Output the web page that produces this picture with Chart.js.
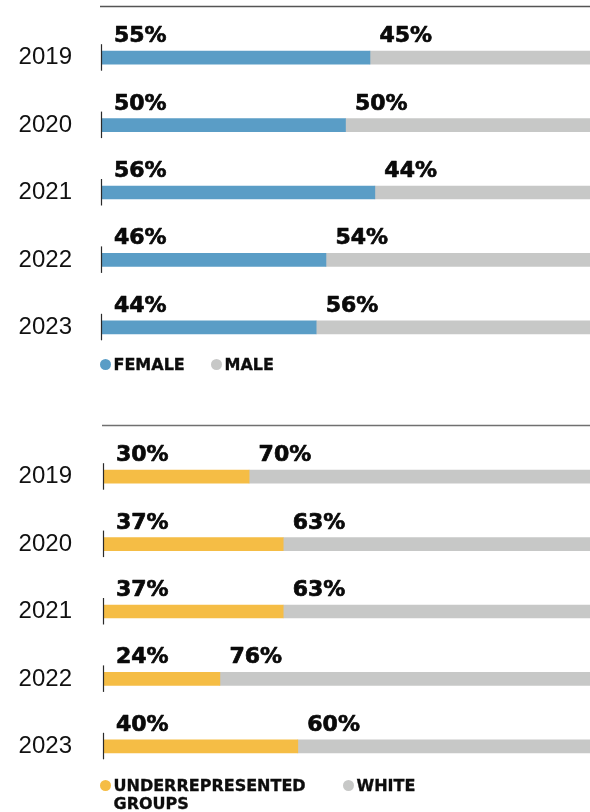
<!DOCTYPE html>
<html>
<head>
<meta charset="utf-8">
<script src="https://cdn.jsdelivr.net/npm/chart.js@4"></script>
<style>
  html, body { margin: 0; padding: 0; background: #fff; }
  body { width: 590px; height: 812px; overflow: hidden; position: relative; font-family: "DejaVu Sans", sans-serif; }
  .wrap { position: absolute; left: 0; width: 590px; }
  .wrap canvas { display: block; }
  .item { position: absolute; font-weight: bold; font-size: 16px; line-height: 18px; color: #0d0d0d; white-space: normal; -webkit-text-stroke: 0.35px #0d0d0d; }
  .dot { position: absolute; width: 11px; height: 11px; border-radius: 50%; }
</style>
</head>
<body>
<div class="wrap" style="top:0;height:361px"><canvas id="genderChart" width="590" height="361"></canvas></div>
<div class="wrap" style="top:420px;height:360px"><canvas id="raceChart" width="590" height="360"></canvas></div>
<div id="genderLegend"></div>
<div id="raceLegend"></div>

<script>
// Years shown on both panels
const years = ['2019', '2020', '2021', '2022', '2023'];

// Gender split (%)
const female = [55, 50, 56, 46, 44];
const male   = [45, 50, 44, 54, 56];

// Race / ethnicity split (%)
const underrepresented = [30, 37, 37, 24, 40];
const white            = [70, 63, 63, 76, 60];

// Series names
const genderLabels = ['FEMALE', 'MALE'];
const raceLabels   = ['UNDERREPRESENTED GROUPS', 'WHITE'];

const BLUE = '#5a9dc6';
const YELLOW = '#f5bd45';
const GREY = '#c7c8c7';

// Draws the rule above each panel, the short axis marks beside each bar
// and the percentage labels sitting above the bars.
const annotate = {
  id: 'annotate',
  afterDatasetsDraw(chart, args, opts) {
    const { ctx, chartArea } = chart;
    ctx.save();
    // top rule
    ctx.strokeStyle = opts.ruleColor;
    ctx.lineWidth = 1.5;
    ctx.beginPath();
    ctx.moveTo(chartArea.left - 1, chartArea.top - opts.ruleGap);
    ctx.lineTo(chartArea.right, chartArea.top - opts.ruleGap);
    ctx.stroke();

    const first = chart.getDatasetMeta(0);
    // axis marks
    ctx.strokeStyle = '#2a2a2a';
    ctx.lineWidth = 1.2;
    first.data.forEach(bar => {
      ctx.beginPath();
      ctx.moveTo(chartArea.left + 0.5, bar.y - 13.5);
      ctx.lineTo(chartArea.left + 0.5, bar.y + 13);
      ctx.stroke();
    });

    // value labels
    ctx.fillStyle = '#0a0a0a';
    ctx.strokeStyle = '#0a0a0a';
    ctx.lineWidth = 0.7;
    ctx.lineJoin = 'round';
    ctx.font = 'bold 22px "DejaVu Sans", sans-serif';
    ctx.textAlign = 'left';
    ctx.textBaseline = 'alphabetic';
    const ds0 = chart.data.datasets[0].data;
    const ds1 = chart.data.datasets[1].data;
    first.data.forEach((bar, i) => {
      const baseY = bar.y - bar.height / 2 - 9;
      const t0 = ds0[i] + '%';
      const t1 = ds1[i] + '%';
      ctx.fillText(t0, chartArea.left + 13, baseY);
      ctx.strokeText(t0, chartArea.left + 13, baseY);
      ctx.fillText(t1, bar.x + 9.5, baseY);
      ctx.strokeText(t1, bar.x + 9.5, baseY);
    });
    ctx.restore();
  }
};

function makeChart(id, a, b, names, colors, leftEdge, padTop, ruleColor) {
  return new Chart(document.getElementById(id), {
    type: 'bar',
    data: {
      labels: years,
      datasets: [
        { label: names[0], data: a, backgroundColor: colors[0], barThickness: 13, borderWidth: 0 },
        { label: names[1], data: b, backgroundColor: colors[1], barThickness: 13, borderWidth: 0 }
      ]
    },
    options: {
      indexAxis: 'y',
      responsive: false,
      animation: false,
      events: [],
      layout: { padding: { top: padTop, bottom: 0, left: 0, right: 0 } },
      plugins: {
        legend: { display: false },
        tooltip: { enabled: false },
        annotate: { ruleGap: 17.5, ruleColor: ruleColor }
      },
      scales: {
        x: { stacked: true, min: 0, max: 100, display: false },
        y: {
          stacked: true,
          grid: { display: false, drawTicks: false },
          border: { display: false },
          ticks: {
            color: '#111',
            padding: leftEdge - 72,
            font: { family: '"Liberation Sans", Arial, sans-serif', size: 24 }
          },
          afterFit(scale) {
            scale.width = leftEdge;
            scale.paddingTop = 0;
            scale.paddingBottom = 0;
          }
        }
      }
    },
    plugins: [annotate]
  });
}

makeChart('genderChart', female, male, genderLabels, [BLUE, GREY], 101, 24, '#555');
makeChart('raceChart', underrepresented, white, raceLabels, [YELLOW, GREY], 103, 23, '#707070');

// HTML legends built from the series names and colours
function buildLegend(el, names, colors, top, dotLefts, maxWidth) {
  names.forEach((name, i) => {
    const dot = document.createElement('span');
    dot.className = 'dot';
    dot.style.background = colors[i];
    dot.style.left = dotLefts[i] + 'px';
    dot.style.top = (top + 3) + 'px';
    el.appendChild(dot);
    const txt = document.createElement('span');
    txt.className = 'item';
    txt.textContent = name;
    txt.style.left = (dotLefts[i] + 14) + 'px';
    txt.style.top = top + 'px';
    txt.style.width = maxWidth + 'px';
    el.appendChild(txt);
  });
}
buildLegend(document.getElementById('genderLegend'), genderLabels, [BLUE, GREY], 356, [99.5, 210.5], 200);
buildLegend(document.getElementById('raceLegend'), raceLabels, [YELLOW, GREY], 777, [99.5, 342.5], 205);
</script>
</body>
</html>
